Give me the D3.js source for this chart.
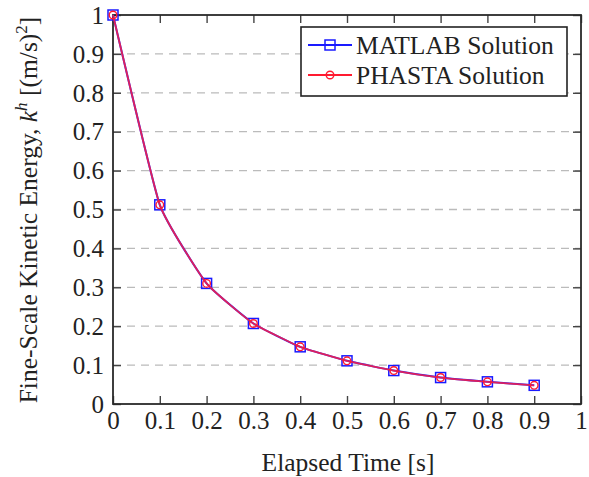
<!DOCTYPE html>
<html>
<head>
<meta charset="utf-8">
<script src="https://cdn.jsdelivr.net/npm/d3@7"></script>
<style>
body { margin: 0; background: #fff; }
text { font-family: "Liberation Serif", "DejaVu Serif", serif; fill: #222; }
</style>
</head>
<body>
<div id="chart"></div>
<script>
// data
var times = [0, 0.1, 0.2, 0.3, 0.4, 0.5, 0.6, 0.7, 0.8, 0.9];
var matlab = [1.0, 0.512, 0.310, 0.207, 0.147, 0.111, 0.086, 0.068, 0.057, 0.048];
var phasta = [1.0, 0.512, 0.310, 0.207, 0.147, 0.111, 0.086, 0.068, 0.057, 0.048];
var xTicks = [0, 0.1, 0.2, 0.3, 0.4, 0.5, 0.6, 0.7, 0.8, 0.9, 1];
var yTicks = [0, 0.1, 0.2, 0.3, 0.4, 0.5, 0.6, 0.7, 0.8, 0.9, 1];
var seriesNames = ["MATLAB Solution", "PHASTA Solution"];

var W = 589, H = 477;
var margin = { top: 15, right: 8, bottom: 73, left: 113 },
    width = W - margin.left - margin.right,
    height = H - margin.top - margin.bottom;

var svg = d3.select("#chart")
    .append("svg")
    .attr("width", W)
    .attr("height", H)
    .append("g")
    .attr("transform", "translate(" + margin.left + "," + margin.top + ")");

var x = d3.scaleLinear().domain([0, 1]).range([0, width]);
var y = d3.scaleLinear().domain([0, 1]).range([height, 0]);

// dashed grid
svg.append("g")
    .selectAll("line")
    .data(yTicks.filter(function (d) { return d > 0 && d < 1; }))
    .join("line")
    .attr("x1", 0).attr("x2", width)
    .attr("y1", function (d) { return y(d); })
    .attr("y2", function (d) { return y(d); })
    .attr("stroke", "#bbb")
    .attr("stroke-width", 1.3)
    .attr("stroke-dasharray", "8,6");

// axes: ticks pointing inward on all four sides
var fmt = function (d) { return d === 0 || d === 1 ? String(d) : d.toFixed(1); };
var xAxis = svg.append("g")
    .attr("transform", "translate(0," + height + ")")
    .call(d3.axisBottom(x).tickValues(xTicks).tickSize(-8).tickPadding(10).tickFormat(fmt));
var yAxis = svg.append("g")
    .call(d3.axisLeft(y).tickValues(yTicks).tickSize(-8).tickPadding(9).tickFormat(fmt));
svg.append("g")
    .call(d3.axisTop(x).tickValues(xTicks).tickSize(-8).tickFormat(""));
svg.append("g")
    .attr("transform", "translate(" + width + ",0)")
    .call(d3.axisRight(y).tickValues(yTicks).tickSize(-8).tickFormat(""));

svg.selectAll(".domain").remove();
svg.selectAll(".tick line").attr("stroke", "#444").attr("stroke-width", 1.4);
svg.selectAll(".tick text").attr("font-size", 25).attr("fill", "#223")
    .style("font-family", "'Liberation Serif', serif");
yAxis.selectAll(".tick text").attr("dy", "0.33em");
xAxis.selectAll(".tick text").attr("dy", "0.58em");

// frame
svg.append("rect")
    .attr("x", 0).attr("y", 0)
    .attr("width", width).attr("height", height)
    .attr("fill", "none")
    .attr("stroke", "#2a2a2a")
    .attr("stroke-width", 1.8);

// series
var line = d3.line()
    .x(function (d) { return x(d.t); })
    .y(function (d) { return y(d.v); })
    .curve(d3.curveCardinal.tension(0.6));

var mData = times.map(function (t, i) { return { t: t, v: matlab[i] }; });
var pData = times.map(function (t, i) { return { t: t, v: phasta[i] }; });

svg.append("path").datum(mData)
    .attr("d", line).attr("fill", "none")
    .attr("stroke", "#2020ff").attr("stroke-width", 2);
svg.append("g").selectAll("rect").data(mData).join("rect")
    .attr("x", function (d) { return x(d.t) - 5; })
    .attr("y", function (d) { return y(d.v) - 5; })
    .attr("width", 10).attr("height", 10)
    .attr("fill", "none").attr("stroke", "#1a1aff").attr("stroke-width", 1.5);

svg.append("path").datum(pData)
    .attr("d", line).attr("fill", "none")
    .attr("stroke", "#ff2040").attr("stroke-width", 1.8).attr("stroke-opacity", 0.85);
svg.append("g").selectAll("circle").data(pData).join("circle")
    .attr("cx", function (d) { return x(d.t); })
    .attr("cy", function (d) { return y(d.v); })
    .attr("r", 3.8)
    .attr("fill", "none").attr("stroke", "#ff1a30").attr("stroke-width", 1.4);

// legend
var lg = svg.append("g").attr("transform", "translate(" + (301 - margin.left) + "," + (27 - margin.top) + ")");
lg.append("rect")
    .attr("width", 266).attr("height", 69)
    .attr("fill", "#fff").attr("stroke", "#222").attr("stroke-width", 1.6);
var entries = lg.selectAll("g.entry").data(seriesNames).join("g")
    .attr("class", "entry")
    .attr("transform", function (d, i) { return "translate(0," + (18 + i * 30) + ")"; });
entries.append("line")
    .attr("x1", 7).attr("x2", 51)
    .attr("stroke", function (d, i) { return i === 0 ? "#1a1aff" : "#ff1a30"; })
    .attr("stroke-width", 2);
entries.each(function (d, i) {
    var g = d3.select(this);
    if (i === 0) {
        g.append("rect").attr("x", 24).attr("y", -5).attr("width", 10).attr("height", 10)
            .attr("fill", "none").attr("stroke", "#1a1aff").attr("stroke-width", 1.5);
    } else {
        g.append("circle").attr("cx", 29).attr("r", 3.8)
            .attr("fill", "none").attr("stroke", "#ff1a30").attr("stroke-width", 1.4);
    }
});
entries.append("text")
    .attr("x", 55).attr("dy", "0.35em")
    .attr("font-size", 25.5)
    .text(function (d) { return d; });

// axis labels
svg.append("text")
    .attr("text-anchor", "middle")
    .attr("x", 348 - margin.left)
    .attr("y", height + 67)
    .attr("font-size", 25.5)
    .text("Elapsed Time [s]");

var yl = svg.append("text")
    .attr("text-anchor", "middle")
    .attr("font-size", 25.5)
    .attr("transform", "translate(-76," + (210 - margin.top) + ")rotate(-90)");
yl.append("tspan").text("Fine-Scale Kinetic Energy, ");
yl.append("tspan").attr("font-style", "italic").text("k");
yl.append("tspan").attr("font-style", "italic").attr("font-size", 17).attr("dy", -10).text("h");
yl.append("tspan").attr("dy", 10).text(" [(m/s)");
yl.append("tspan").attr("font-size", 17).attr("dy", -10).text("2");
yl.append("tspan").attr("dy", 10).text("]");
</script>
</body>
</html>
